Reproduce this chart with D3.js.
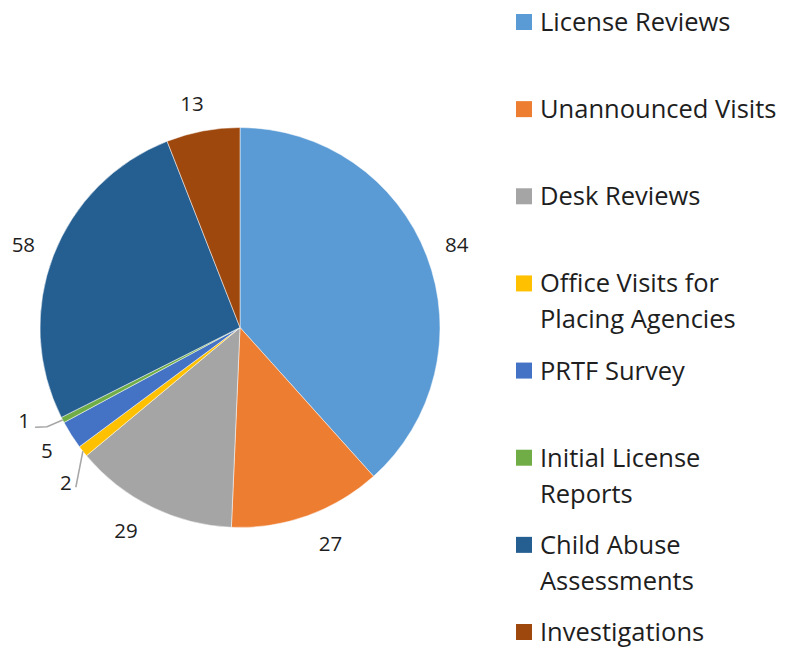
<!DOCTYPE html>
<html>
<head>
<meta charset="utf-8">
<script src="https://cdn.jsdelivr.net/npm/d3@7"></script>
<style>
  body { margin: 0; background: #fff; }
  svg { display: block; font-family: "Open Sans", sans-serif; }
</style>
</head>
<body>
<svg width="796" height="648"></svg>
<script>
// data
const categories = [
  "License Reviews",
  "Unannounced Visits",
  "Desk Reviews",
  "Office Visits for Placing Agencies",
  "PRTF Survey",
  "Initial License Reports",
  "Child Abuse Assessments",
  "Investigations"
];
const values = [84, 27, 29, 2, 5, 1, 58, 13];
// legend text broken into lines as in the original
const legendLines = [
  ["License Reviews"],
  ["Unannounced Visits"],
  ["Desk Reviews"],
  ["Office Visits for", "Placing Agencies"],
  ["PRTF Survey"],
  ["Initial License", "Reports"],
  ["Child Abuse", "Assessments"],
  ["Investigations"]
];
const colors = ["#5B9BD5", "#ED7D31", "#A5A5A5", "#FFC000", "#4472C4", "#70AD47", "#255E91", "#9E480E"];

let svg = d3.select("svg");
let cx = 240, cy = 327.5, radius = 200;

let color = d3.scaleOrdinal().domain(categories).range(colors);

let pie = d3.pie().sort(null).value(d => d.value);
let arcs = pie(categories.map((c, i) => ({ cat: c, value: values[i] })));

let arc = d3.arc().innerRadius(0).outerRadius(radius);

let g = svg.append("g").attr("transform", `translate(${cx},${cy})`);

g.selectAll("path.slice")
  .data(arcs)
  .enter()
  .append("path")
  .attr("class", "slice")
  .attr("d", arc)
  .attr("fill", d => color(d.data.cat))
  .attr("stroke", "#fff")
  .attr("stroke-width", 0.5);

// label distance from centre, and nudges (degrees) so labels don't collide
let labelR = [232, 234, 233, 233, 229, 235, 232, 229];
let labelShift = [0, -3, 3, -3.4, 0, 4.3, 0, -1.4];

function polar(a, r) {
  return [Math.sin(a) * r, -Math.cos(a) * r];
}
function midAngle(d) {
  return (d.startAngle + d.endAngle) / 2;
}
function labelPos(d, i) {
  return polar(midAngle(d) + labelShift[i] * Math.PI / 180, labelR[i]);
}

// leader lines for the tiny slices
let edge2 = polar(midAngle(arcs[3]), radius);
let lbl2 = labelPos(arcs[3], 3);
let edge1 = polar(midAngle(arcs[5]), radius);
let lbl1 = labelPos(arcs[5], 5);
let leaderPts = [
  [edge2, [lbl2[0] + 10, lbl2[1] + 5]],
  [edge1, [lbl1[0] + 23, lbl1[1] + 6.5], [lbl1[0] + 11, lbl1[1] + 7]]
];

g.selectAll("path.leader")
  .data(leaderPts)
  .enter()
  .append("path")
  .attr("class", "leader")
  .attr("d", d => d3.line()(d))
  .attr("fill", "none")
  .attr("stroke", "#A6A6A6")
  .attr("stroke-width", 1.5);

g.selectAll("text.lbl")
  .data(arcs)
  .enter()
  .append("text")
  .attr("class", "lbl")
  .attr("x", (d, i) => labelPos(d, i)[0])
  .attr("y", (d, i) => labelPos(d, i)[1])
  .attr("dy", "0.36em")
  .attr("text-anchor", "middle")
  .style("font-size", "20.5px")
  .style("fill", "#1e1e1e")
  .text(d => d.value);

// legend
let legendY = d3.scalePoint().domain(categories).range([22, 632]);

let legend = svg.append("g").attr("transform", "translate(516,0)");

let item = legend.selectAll("g")
  .data(categories)
  .enter()
  .append("g")
  .attr("transform", d => `translate(0,${legendY(d)})`);

item.append("rect")
  .attr("x", 0)
  .attr("y", -8)
  .attr("width", 16)
  .attr("height", 16)
  .attr("fill", d => color(d));

item.append("text")
  .attr("x", 24)
  .style("font-size", "25.5px")
  .style("fill", "#1e1e1e")
  .selectAll("tspan")
  .data((d, i) => legendLines[i])
  .enter()
  .append("tspan")
  .attr("x", 24)
  .attr("y", (d, i) => i * 36)
  .attr("dy", "0.35em")
  .text(d => d);
</script>
</body>
</html>
